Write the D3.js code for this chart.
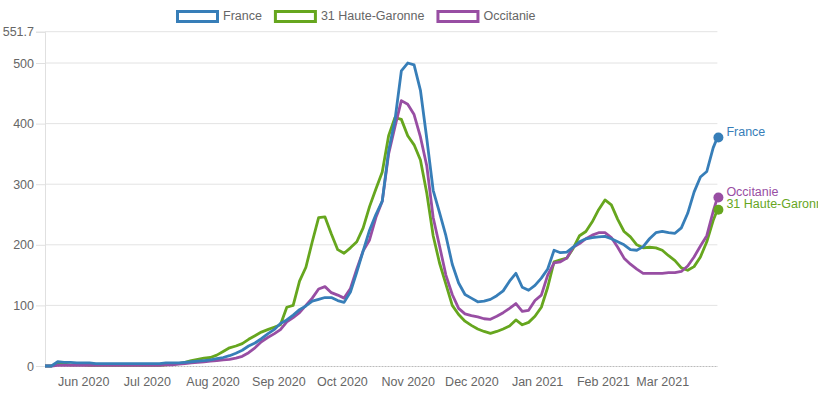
<!DOCTYPE html>
<html>
<head>
<meta charset="utf-8">
<script src="https://cdn.jsdelivr.net/npm/d3@7"></script>
<style>
  body { margin: 0; background: #fff; }
  text { font-family: "Liberation Sans", Arial, sans-serif; }
</style>
</head>
<body>
<div id="chart"></div>
<script>
// one reading every 3 days from 14 May 2020, last one on 27 March 2021
const dates = d3.timeDay.range(new Date(2020, 4, 14), new Date(2021, 2, 26), 3);
dates.push(new Date(2021, 2, 27));

const france = [0,0,7,6,6,5,5,5,4,4,
  4,4,4,4,4,4,4,4,4,5,
  5,5,6,7,8,9,10,12,14,17,
  21,26,33,38,45,53,60,70,76,84,
  93,99,107,110,113,113,108,105,122,155,
  190,224,250,272,355,406,487,500,497,455,
  375,290,253,215,168,137,118,112,106,107,
  110,116,124,140,153,130,125,133,145,160,
  191,187,188,196,205,210,212,213,214,210,
  205,200,192,191,197,210,220,222,220,219,
  228,252,287,312,321,360,377];

const hauteGaronne = [0,0,3,3,2,2,2,1,1,1,
  1,1,1,1,1,1,1,1,1,2,
  3,4,6,9,11,13,14,18,24,30,
  33,37,44,50,56,60,64,68,97,100,
  140,163,205,245,246,218,192,186,195,205,
  228,263,292,320,380,410,407,380,365,340,
  285,215,170,135,100,85,74,67,61,57,
  54,57,61,66,76,68,72,82,97,130,
  172,175,178,194,215,222,238,258,274,266,
  242,222,213,200,195,196,195,191,182,174,
  162,158,164,180,205,240,258];

const occitanie = [0,0,1,1,1,1,1,1,1,1,
  1,1,1,1,1,1,1,1,1,2,
  2,3,4,5,6,7,8,9,10,11,
  13,16,22,30,40,47,53,60,73,80,
  88,100,112,127,131,121,117,112,128,160,
  190,208,245,272,350,395,438,432,415,378,
  330,245,198,150,118,95,86,83,81,78,
  77,82,88,95,103,90,92,108,117,150,
  170,172,178,196,202,210,216,220,220,212,
  196,178,168,160,153,153,153,153,154,154,
  156,165,180,198,215,255,278];

const seriesNames = ["France", "31 Haute-Garonne", "Occitanie"];
const yTicks = [0, 100, 200, 300, 400, 500, 551.7];

const colors = { "France": "#377eb8", "31 Haute-Garonne": "#66a61e", "Occitanie": "#984ea3" };
const seriesData = { "France": france, "31 Haute-Garonne": hauteGaronne, "Occitanie": occitanie };

const W = 818, H = 397;
const plot = { left: 45, right: 717.4, top: 31.7, bottom: 366 };

const svg = d3.select("#chart").append("svg")
    .attr("width", W)
    .attr("height", H);

const x = d3.scaleTime()
    .domain([dates[0], dates[dates.length - 1]])
    .range([plot.left, plot.right]);

const y = d3.scaleLinear()
    .domain([0, 551.7])
    .range([plot.bottom, plot.top]);

// grid
svg.append("g")
    .selectAll("line")
    .data(yTicks.filter(d => d > 0))
    .enter().append("line")
    .attr("x1", plot.left).attr("x2", plot.right)
    .attr("y1", d => y(d)).attr("y2", d => y(d))
    .attr("stroke", "#e3e3e3");

// y axis
const yAxis = svg.append("g")
    .attr("transform", "translate(" + plot.left + ",0)")
    .call(d3.axisLeft(y).tickValues(yTicks).tickFormat(d => d).tickSize(9).tickPadding(2));
yAxis.select(".domain").attr("stroke", "#e0e0e0");
yAxis.selectAll(".tick line").attr("stroke", "#e0e0e0");
yAxis.selectAll("text").attr("fill", "#666").style("font-size", "12.5px")
    .style("font-family", '"Liberation Sans", Arial, sans-serif');

// x axis
const xAxis = svg.append("g")
    .attr("transform", "translate(0," + plot.bottom + ")")
    .call(d3.axisBottom(x).ticks(d3.timeMonth.every(1)).tickFormat(d3.timeFormat("%b %Y")).tickSize(0).tickPadding(11));
xAxis.select(".domain").attr("stroke", "#bbb").attr("stroke-dasharray", "2,1");
xAxis.selectAll("text").attr("fill", "#666").style("font-size", "12.5px")
    .style("font-family", '"Liberation Sans", Arial, sans-serif');

// lines, France drawn last so it sits on top
const line = d3.line()
    .x((d, i) => x(dates[i]))
    .y(d => y(d));

const drawOrder = ["31 Haute-Garonne", "Occitanie", "France"];
drawOrder.forEach(name => {
    svg.append("path")
        .datum(seriesData[name])
        .attr("fill", "none")
        .attr("stroke", colors[name])
        .attr("stroke-width", 2.8)
        .attr("stroke-linejoin", "round")
        .attr("d", line);
});

// end points and labels
const last = dates.length - 1;
drawOrder.forEach(name => {
    const v = seriesData[name][last];
    svg.append("circle")
        .attr("cx", x(dates[last]) + 1)
        .attr("cy", y(v))
        .attr("r", 5)
        .attr("fill", colors[name]);
    svg.append("text")
        .attr("x", x(dates[last]) + 9)
        .attr("y", y(v) - 6)
        .attr("dy", "0.35em")
        .attr("fill", colors[name])
        .style("font-size", "12.5px")
        .text(name);
});

// legend
let lx = 176;
seriesNames.forEach(name => {
    svg.append("rect")
        .attr("x", lx + 1.5).attr("y", 11.5)
        .attr("width", 40).attr("height", 10)
        .attr("fill", "#fff")
        .attr("stroke", colors[name])
        .attr("stroke-width", 3);
    const t = svg.append("text")
        .attr("x", lx + 47).attr("y", 19.5)
        .attr("fill", "#666")
        .style("font-size", "12.5px")
        .text(name);
    lx += 47 + t.node().getComputedTextLength() + 12;
});
</script>
</body>
</html>
